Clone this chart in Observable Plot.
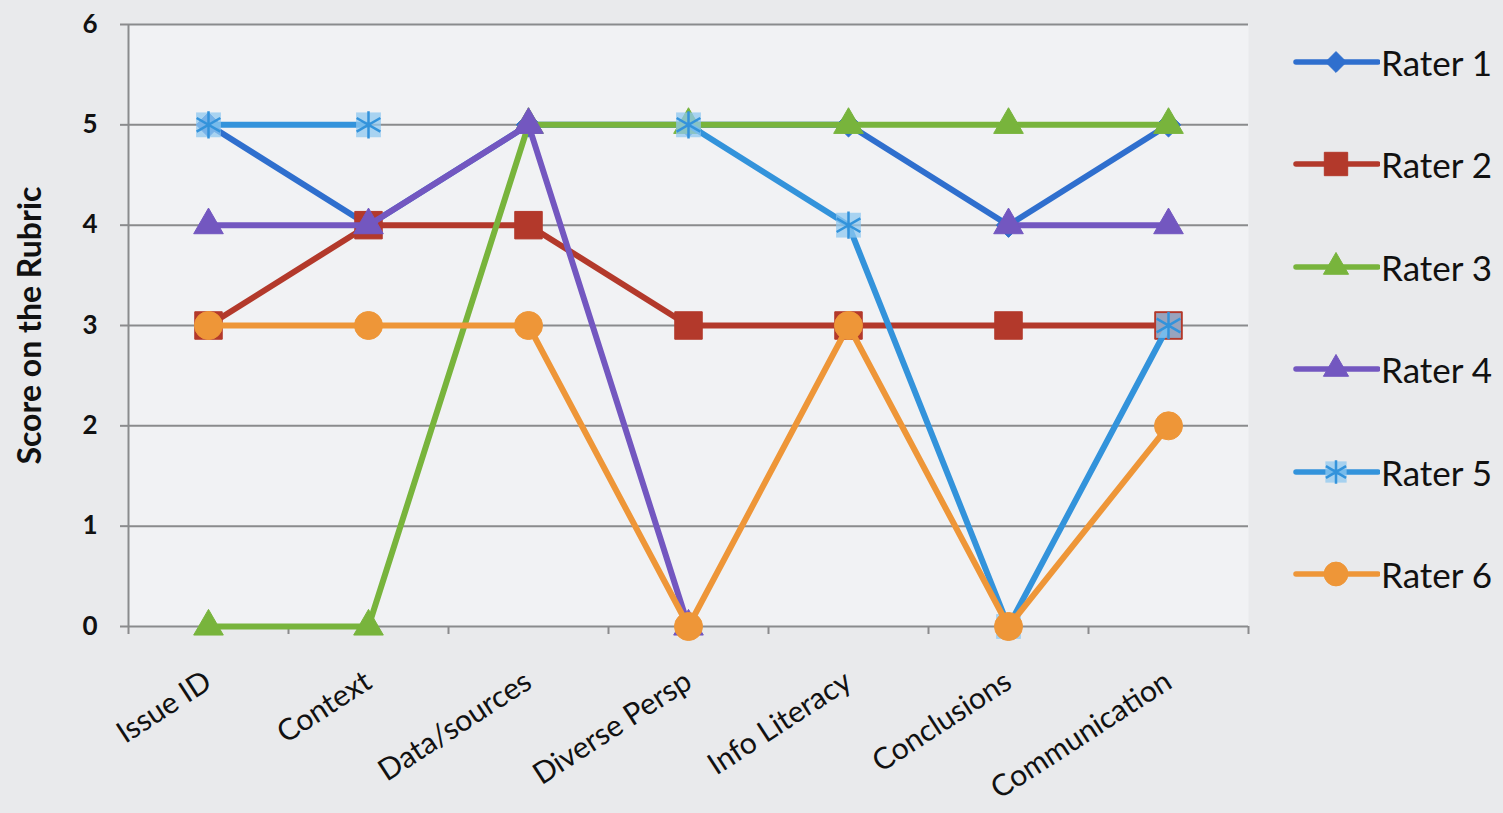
<!DOCTYPE html>
<html>
<head>
<meta charset="utf-8">
<script src="https://cdn.jsdelivr.net/npm/d3@7"></script>
<script src="https://cdn.jsdelivr.net/npm/@observablehq/plot@0.6"></script>
<style>
  html, body { margin: 0; padding: 0; background: #e9eaec; }
  #wrap { position: relative; width: 1503px; height: 813px; overflow: hidden; font-family: Lato, "Open Sans", sans-serif; }
  #chart { position: absolute; left: 0; top: 0; }
  #legend { position: absolute; left: 1290px; top: 0; }
  .item { position: absolute; left: 0; height: 40px; display: flex; align-items: center; white-space: nowrap; }
  .item span { font-size: 35px; color: #111; margin-left: 1px; }
</style>
</head>
<body>
<div id="wrap"><div id="chart"></div><div id="legend"></div></div>
<script>
// Rubric categories along the x axis
const categories = ["Issue ID", "Context", "Data/sources", "Diverse Persp", "Info Literacy", "Conclusions", "Communication"];
const yTicks = [0, 1, 2, 3, 4, 5, 6];
const yTitle = "Score on the Rubric";

// Scores given by each rater (null = no score recorded)
const raterNames = ["Rater 1", "Rater 2", "Rater 3", "Rater 4", "Rater 5", "Rater 6"];
const rater1 = [5, 4, 5, 5, 5, 4, 5];
const rater2 = [3, 4, 4, 3, 3, 3, 3];
const rater3 = [0, 0, 5, 5, 5, 5, 5];
const rater4 = [4, 4, 5, 0, null, 4, 4];
const rater5 = [5, 5, null, 5, 4, 0, 3];
const rater6 = [3, 3, 3, 0, 3, 0, 2];

// Series styling
const styles = [
  {color: "#2f6fce", symbol: "diamond2", r: 11},
  {color: "#b3392b", symbol: "square", r: 15.5},
  {color: "#78b43c", symbol: "triangle", r: 11},
  {color: "#7357c0", symbol: "triangle", r: 11},
  {color: "#3393db", symbol: "asterisk", r: 13},
  {color: "#ee9638", symbol: "circle", r: 14}
];

const scores = [rater1, rater2, rater3, rater4, rater5, rater6];
const series = raterNames.map((name, k) => ({
  name,
  style: styles[k],
  rows: categories.map((c, i) => ({rater: name, i, category: c, score: scores[k][i]}))
}));

const font = "Lato, 'Open Sans', sans-serif";
const gridColor = "#8a8b8d";

// Each rater: line first, then its markers, series by series
const seriesMarks = series.flatMap(s => {
  const defined = s.rows.filter(d => d.score != null);
  const m = [
    Plot.line(s.rows, {x: "i", y: "score", stroke: s.style.color, strokeWidth: 6, strokeLinejoin: "round"})
  ];
  if (s.style.symbol === "asterisk") {
    m.push(Plot.dot(defined, {x: "i", y: "score", symbol: "square", r: 14, fill: "#8fc8f0", fillOpacity: 0.75, stroke: "none"}));
    m.push(Plot.dot(defined, {x: "i", y: "score", symbol: "asterisk", r: s.style.r, stroke: s.style.color, strokeWidth: 2.5}));
  } else {
    m.push(Plot.dot(defined, {x: "i", y: "score", symbol: s.style.symbol, r: s.style.r, fill: s.style.color, stroke: s.style.color, strokeWidth: 1}));
  }
  return m;
});

const chart = Plot.plot({
  width: 1270,
  height: 813,
  marginLeft: 128,
  marginRight: 22,
  marginTop: 24,
  marginBottom: 187,
  style: {background: "transparent", fontFamily: font, overflow: "visible"},
  x: {type: "linear", domain: [-0.5, categories.length - 0.5]},
  y: {domain: [0, 6]},
  marks: [
    Plot.frame({fill: "#f1f2f4", stroke: "none"}),
    Plot.ruleY(yTicks, {stroke: gridColor, strokeWidth: 2}),
    Plot.ruleX([-0.5], {stroke: gridColor, strokeWidth: 2}),
    Plot.axisY({
      ticks: yTicks, tickSize: 8, tickPadding: 23, tickFormat: d => String(d),
      stroke: gridColor, strokeWidth: 2,
      fill: "#111", fontSize: 26, fontWeight: "bold", label: null
    }),
    Plot.text([yTitle], {
      frameAnchor: "left", dx: -98, rotate: -90, textAnchor: "middle",
      fontSize: 32, fontWeight: "bold", fill: "#111"
    }),
    Plot.axisX({
      ticks: d3.range(categories.length + 1).map(i => i - 0.5),
      tickSize: 8, stroke: gridColor, strokeWidth: 2, tickFormat: () => "", label: null
    }),
    Plot.axisX({
      ticks: d3.range(categories.length), tickSize: 0, tickPadding: 52, tickRotate: -33,
      tickFormat: i => categories[i], fill: "#111", fontSize: 30, label: null
    }),
    ...seriesMarks
  ]
});
document.getElementById("chart").appendChild(chart);

// Legend on the right
const legend = d3.select("#legend");
const legendTop = 62, legendStep = 102.4;
const symMap = {diamond2: d3.symbolDiamond2, square: d3.symbolSquare, triangle: d3.symbolTriangle, asterisk: d3.symbolAsterisk, circle: d3.symbolCircle};
series.forEach((s, k) => {
  const item = legend.append("div").attr("class", "item")
    .style("top", (legendTop + k * legendStep - 20) + "px");
  const svg = item.append("svg").attr("width", 90).attr("height", 40);
  svg.append("line").attr("x1", 6).attr("x2", 88).attr("y1", 20).attr("y2", 20)
    .attr("stroke", s.style.color).attr("stroke-width", 5.5).attr("stroke-linecap", "round");
  const rr = s.style.r * 0.85;
  if (s.style.symbol === "asterisk") {
    svg.append("path").attr("transform", "translate(46,20)")
      .attr("d", d3.symbol(d3.symbolSquare, Math.PI * 12 * 12)())
      .attr("fill", "#8fc8f0").attr("fill-opacity", 0.75);
    svg.append("path").attr("transform", "translate(46,20)")
      .attr("d", d3.symbol(d3.symbolAsterisk, Math.PI * rr * rr)())
      .attr("fill", "none").attr("stroke", s.style.color).attr("stroke-width", 2.5);
  } else {
    svg.append("path").attr("transform", "translate(46,20)")
      .attr("d", d3.symbol(symMap[s.style.symbol], Math.PI * rr * rr)())
      .attr("fill", s.style.color).attr("stroke", s.style.color);
  }
  item.append("span").text(s.name);
});
</script>
</body>
</html>
